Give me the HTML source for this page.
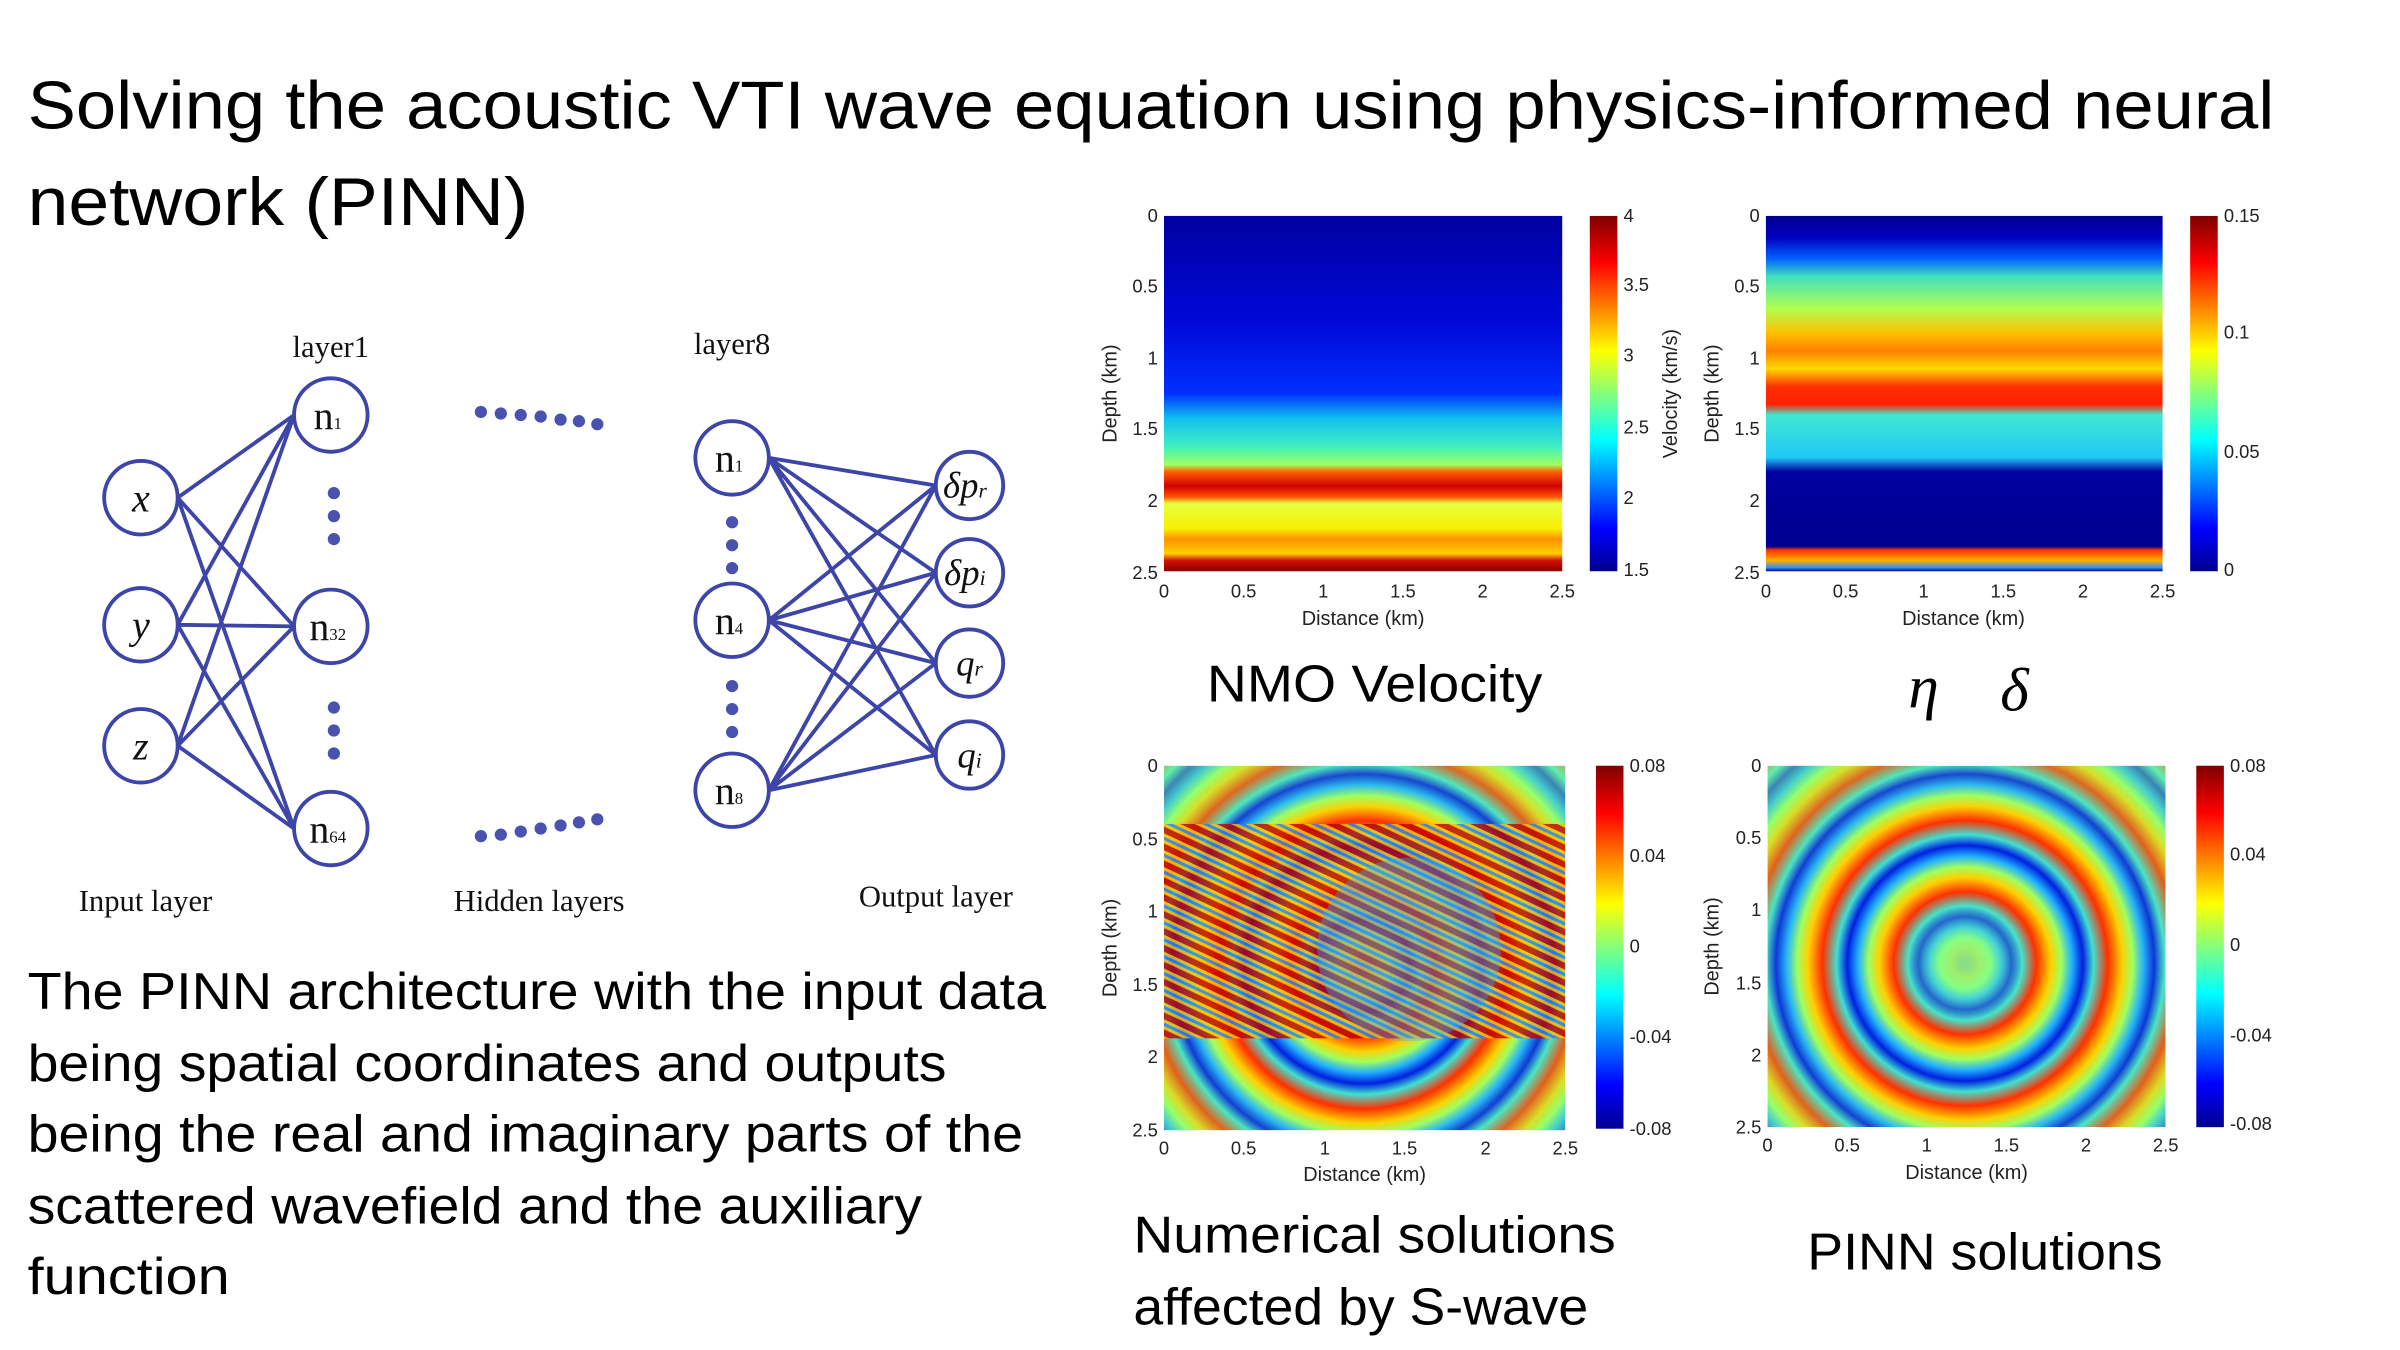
<!DOCTYPE html>
<html><head><meta charset="utf-8"><style>
html,body{margin:0;padding:0;background:#fff;width:2400px;height:1350px;overflow:hidden}
svg{display:block}
.t{font-family:"Liberation Sans",sans-serif;fill:#000}
.s{font-family:"Liberation Serif",serif;fill:#111}
.tk{font-family:"Liberation Sans",sans-serif;font-size:12px;fill:#222}
.ax{font-family:"Liberation Sans",sans-serif;font-size:13px;fill:#222}
</style></head><body>
<svg width="2400" height="1350" viewBox="0 0 1567 881.5" preserveAspectRatio="none">
<defs>
<linearGradient id="jet" x1="0" y1="1" x2="0" y2="0">
<stop offset="0" stop-color="#00008f"/><stop offset="0.12" stop-color="#0000ff"/><stop offset="0.37" stop-color="#00ffff"/><stop offset="0.62" stop-color="#ffff00"/><stop offset="0.87" stop-color="#ff0000"/><stop offset="1" stop-color="#800000"/>
</linearGradient>
<linearGradient id="v1" x1="0" y1="0" x2="0" y2="1">
<stop offset="0" stop-color="#0000a0"/><stop offset="0.3" stop-color="#0008d8"/><stop offset="0.5" stop-color="#0030ff"/><stop offset="0.57" stop-color="#10c0f0"/><stop offset="0.65" stop-color="#40f0c0"/><stop offset="0.7" stop-color="#a0ff60"/><stop offset="0.72" stop-color="#ff6000"/><stop offset="0.76" stop-color="#d00000"/><stop offset="0.79" stop-color="#ff5000"/><stop offset="0.81" stop-color="#e8ff40"/><stop offset="0.88" stop-color="#f8f000"/><stop offset="0.91" stop-color="#ff9000"/><stop offset="0.95" stop-color="#ffd000"/><stop offset="0.97" stop-color="#d01000"/><stop offset="1" stop-color="#900000"/>
</linearGradient>
<linearGradient id="v2" x1="0" y1="0" x2="0" y2="1">
<stop offset="0" stop-color="#00008f"/><stop offset="0.06" stop-color="#0000c0"/><stop offset="0.12" stop-color="#0060ff"/><stop offset="0.17" stop-color="#40e0c0"/><stop offset="0.26" stop-color="#b0ff50"/><stop offset="0.33" stop-color="#ffc000"/><stop offset="0.38" stop-color="#ff8000"/><stop offset="0.43" stop-color="#ffd800"/><stop offset="0.48" stop-color="#ff3000"/><stop offset="0.53" stop-color="#ff2000"/><stop offset="0.56" stop-color="#40e8d0"/><stop offset="0.68" stop-color="#20c8f8"/><stop offset="0.72" stop-color="#0000a0"/><stop offset="0.93" stop-color="#00008f"/><stop offset="0.94" stop-color="#ff3000"/><stop offset="0.97" stop-color="#ffb000"/><stop offset="0.99" stop-color="#3090ff"/><stop offset="1" stop-color="#0000a0"/>
</linearGradient>
<radialGradient id="ring" cx="130" cy="130" r="47" gradientUnits="userSpaceOnUse" spreadMethod="repeat">
<stop offset="0" stop-color="#ff3000"/><stop offset="0.2" stop-color="#ffd000"/><stop offset="0.35" stop-color="#a0ff60"/><stop offset="0.5" stop-color="#20b0ff"/><stop offset="0.65" stop-color="#0020e0"/><stop offset="0.8" stop-color="#40e0d0"/><stop offset="1" stop-color="#ff3000"/>
</radialGradient>
<radialGradient id="fade" cx="0.5" cy="0.5" r="0.5">
<stop offset="0" stop-color="#70ffa0" stop-opacity="0.85"/><stop offset="0.45" stop-color="#70ffa0" stop-opacity="0.3"/><stop offset="0.6" stop-color="#70ffa0" stop-opacity="0"/><stop offset="1" stop-color="#70ffa0" stop-opacity="0"/>
</radialGradient>
<radialGradient id="edge" cx="0.5" cy="0.55" r="0.75">
<stop offset="0.55" stop-color="#80ff80" stop-opacity="0"/><stop offset="1" stop-color="#80ff80" stop-opacity="0.55"/>
</radialGradient>
<pattern id="noise" width="10" height="10" patternUnits="userSpaceOnUse" patternTransform="rotate(-65)">
<rect width="10" height="10" fill="#ffc000"/><rect width="4" height="10" fill="#c00000"/><rect x="6" width="2" height="10" fill="#2080ff"/>
</pattern>
</defs>

<text class="t" x="18" y="84" font-size="44" textLength="1467" lengthAdjust="spacingAndGlyphs">Solving the acoustic VTI wave equation using physics-informed neural</text>
<text class="t" x="18" y="147" font-size="44" textLength="327" lengthAdjust="spacingAndGlyphs">network (PINN)</text>

<!-- network diagram -->
<g stroke="#3d45a8" stroke-width="2.5" fill="none">
<path d="M116 325L192 271M116 325L192 409M116 325L192 541M116 408L192 271M116 408L192 409M116 408L192 541M116 487L192 271M116 487L192 409M116 487L192 541"/>
<path d="M502 299L611 317M502 299L611 374M502 299L611 433M502 299L611 493M502 405L611 317M502 405L611 374M502 405L611 433M502 405L611 493M502 516L611 317M502 516L611 374M502 516L611 433M502 516L611 493"/>
<g fill="#fff"><circle cx="92" cy="325" r="24"/><circle cx="92" cy="408" r="24"/><circle cx="92" cy="487" r="24"/>
<circle cx="216" cy="271" r="24"/><circle cx="216" cy="409" r="24"/><circle cx="216" cy="541" r="24"/>
<circle cx="478" cy="299" r="24"/><circle cx="478" cy="405" r="24"/><circle cx="478" cy="516" r="24"/>
<circle cx="633" cy="317" r="22"/><circle cx="633" cy="374" r="22"/><circle cx="633" cy="433" r="22"/><circle cx="633" cy="493" r="22"/></g>
</g>
<g fill="#4a52b0">
<circle cx="218" cy="322" r="4"/><circle cx="218" cy="337" r="4"/><circle cx="218" cy="352" r="4"/>
<circle cx="218" cy="462" r="4"/><circle cx="218" cy="477" r="4"/><circle cx="218" cy="492" r="4"/>
<circle cx="478" cy="341" r="4"/><circle cx="478" cy="356" r="4"/><circle cx="478" cy="371" r="4"/>
<circle cx="478" cy="448" r="4"/><circle cx="478" cy="463" r="4"/><circle cx="478" cy="478" r="4"/>
<circle cx="314" cy="269" r="4"/><circle cx="327" cy="270" r="4"/><circle cx="340" cy="271" r="4"/><circle cx="353" cy="272" r="4"/><circle cx="366" cy="274" r="4"/><circle cx="378" cy="275" r="4"/><circle cx="390" cy="277" r="4"/>
<circle cx="314" cy="546" r="4"/><circle cx="327" cy="545" r="4"/><circle cx="340" cy="543" r="4"/><circle cx="353" cy="541" r="4"/><circle cx="366" cy="539" r="4"/><circle cx="378" cy="537" r="4"/><circle cx="390" cy="535" r="4"/>
</g>
<g class="s" text-anchor="middle" font-style="italic" font-size="26">
<text x="92" y="334">x</text><text x="92" y="417">y</text><text x="92" y="496">z</text>
<text x="630" y="325" font-size="24">δp<tspan font-size="14">r</tspan></text>
<text x="630" y="382" font-size="24">δp<tspan font-size="14">i</tspan></text>
<text x="633" y="441" font-size="24">q<tspan font-size="14">r</tspan></text>
<text x="633" y="501" font-size="24">q<tspan font-size="14">i</tspan></text>
</g>
<g class="s" font-size="26" text-anchor="middle">
<text x="214" y="280">n<tspan font-size="11">1</tspan></text><text x="214" y="418">n<tspan font-size="11">32</tspan></text><text x="214" y="550">n<tspan font-size="11">64</tspan></text>
<text x="476" y="308">n<tspan font-size="11">1</tspan></text><text x="476" y="414">n<tspan font-size="11">4</tspan></text><text x="476" y="525">n<tspan font-size="11">8</tspan></text>
</g>
<g class="s" font-size="20" text-anchor="middle">
<text x="216" y="233">layer1</text><text x="478" y="231">layer8</text>
<text x="95" y="595">Input layer</text><text x="352" y="595">Hidden layers</text><text x="611" y="592">Output layer</text>
</g>

<g class="t" font-size="34" lengthAdjust="spacingAndGlyphs">
<text x="18" y="659" textLength="665" lengthAdjust="spacingAndGlyphs">The PINN architecture with the input data</text>
<text x="18" y="706" textLength="600" lengthAdjust="spacingAndGlyphs">being spatial coordinates and outputs</text>
<text x="18" y="752" textLength="650" lengthAdjust="spacingAndGlyphs">being the real and imaginary parts of the</text>
<text x="18" y="799" textLength="584" lengthAdjust="spacingAndGlyphs">scattered wavefield and the auxiliary</text>
<text x="18" y="845" textLength="132" lengthAdjust="spacingAndGlyphs">function</text>
<text x="788" y="458" textLength="219" lengthAdjust="spacingAndGlyphs">NMO Velocity</text>
<text x="740" y="818" textLength="315" lengthAdjust="spacingAndGlyphs">Numerical solutions</text>
<text x="740" y="865" textLength="297" lengthAdjust="spacingAndGlyphs">affected by S-wave</text>
<text x="1180" y="829" textLength="232" lengthAdjust="spacingAndGlyphs">PINN solutions</text>
</g>
<text x="1246" y="462" font-family="Liberation Serif,serif" font-style="italic" font-size="40">η</text>
<text x="1306" y="464" font-family="Liberation Serif,serif" font-style="italic" font-size="40">δ</text>

<!-- Panel 1 -->
<rect x="760" y="141" width="260" height="232" fill="url(#v1)"/>
<rect x="1038" y="141" width="18" height="232" fill="url(#jet)"/>
<!-- Panel 2 -->
<rect x="1153" y="141" width="259" height="232" fill="url(#v2)"/>
<rect x="1430" y="141" width="18" height="232" fill="url(#jet)"/>
<!-- Panel 3 -->
<svg x="760" y="500" width="262" height="238" viewBox="0 0 262 238">
<rect width="262" height="238" fill="url(#ring)"/>
<rect width="262" height="238" fill="url(#edge)"/>
<rect x="0" y="38" width="262" height="140" fill="url(#noise)" opacity="0.8"/>
<ellipse cx="160" cy="120" rx="60" ry="60" fill="#30b0ff" opacity="0.35"/>
</svg>
<rect x="1042" y="500" width="18" height="237" fill="url(#jet)"/>
<!-- Panel 4 -->
<svg x="1154" y="500" width="260" height="236" viewBox="0 0 262 238">
<rect width="262" height="238" fill="url(#ring)"/>
<rect width="262" height="238" fill="url(#edge)"/>
<ellipse cx="130" cy="130" rx="70" ry="70" fill="url(#fade)"/>
</svg>
<rect x="1434" y="500" width="18" height="236" fill="url(#jet)"/>

<!-- ticks -->
<g class="tk" text-anchor="end">
<text x="756" y="145">0</text><text x="756" y="191">0.5</text><text x="756" y="238">1</text><text x="756" y="284">1.5</text><text x="756" y="331">2</text><text x="756" y="378">2.5</text>
<text x="1149" y="145">0</text><text x="1149" y="191">0.5</text><text x="1149" y="238">1</text><text x="1149" y="284">1.5</text><text x="1149" y="331">2</text><text x="1149" y="378">2.5</text>
<text x="756" y="504">0</text><text x="756" y="552">0.5</text><text x="756" y="599">1</text><text x="756" y="647">1.5</text><text x="756" y="694">2</text><text x="756" y="742">2.5</text>
<text x="1150" y="504">0</text><text x="1150" y="551">0.5</text><text x="1150" y="598">1</text><text x="1150" y="646">1.5</text><text x="1150" y="693">2</text><text x="1150" y="740">2.5</text>
</g>
<g class="tk" text-anchor="middle">
<text x="760" y="390">0</text><text x="812" y="390">0.5</text><text x="864" y="390">1</text><text x="916" y="390">1.5</text><text x="968" y="390">2</text><text x="1020" y="390">2.5</text>
<text x="1153" y="390">0</text><text x="1205" y="390">0.5</text><text x="1256" y="390">1</text><text x="1308" y="390">1.5</text><text x="1360" y="390">2</text><text x="1412" y="390">2.5</text>
<text x="760" y="754">0</text><text x="812" y="754">0.5</text><text x="865" y="754">1</text><text x="917" y="754">1.5</text><text x="970" y="754">2</text><text x="1022" y="754">2.5</text>
<text x="1154" y="752">0</text><text x="1206" y="752">0.5</text><text x="1258" y="752">1</text><text x="1310" y="752">1.5</text><text x="1362" y="752">2</text><text x="1414" y="752">2.5</text>
</g>
<g class="tk" font-size="11">
<text x="1060" y="145">4</text><text x="1060" y="190">3.5</text><text x="1060" y="236">3</text><text x="1060" y="283">2.5</text><text x="1060" y="329">2</text><text x="1060" y="376">1.5</text>
<text x="1452" y="145">0.15</text><text x="1452" y="221">0.1</text><text x="1452" y="299">0.05</text><text x="1452" y="376">0</text>
<text x="1064" y="504">0.08</text><text x="1064" y="563">0.04</text><text x="1064" y="622">0</text><text x="1064" y="681">-0.04</text><text x="1064" y="741">-0.08</text>
<text x="1456" y="504">0.08</text><text x="1456" y="562">0.04</text><text x="1456" y="621">0</text><text x="1456" y="680">-0.04</text><text x="1456" y="738">-0.08</text>
</g>
<g class="ax" text-anchor="middle">
<text x="890" y="408">Distance (km)</text><text x="1282" y="408">Distance (km)</text>
<text x="891" y="771">Distance (km)</text><text x="1284" y="770">Distance (km)</text>
<text transform="translate(729,257) rotate(-90)">Depth (km)</text>
<text transform="translate(1122,257) rotate(-90)">Depth (km)</text>
<text transform="translate(1095,257) rotate(-90)">Velocity (km/s)</text>
<text transform="translate(729,619) rotate(-90)">Depth (km)</text>
<text transform="translate(1122,618) rotate(-90)">Depth (km)</text>
</g>
</svg>
</body></html>
